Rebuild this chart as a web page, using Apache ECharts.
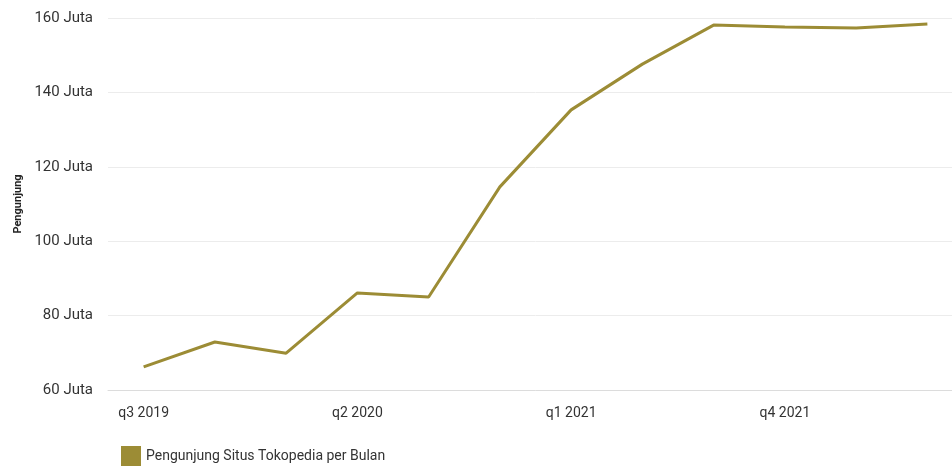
<!DOCTYPE html>
<html><head><meta charset="utf-8">
<script src="https://cdn.jsdelivr.net/npm/echarts@6/dist/echarts.min.js"></script>
<style>html,body{margin:0;padding:0;background:#fff;overflow:hidden;width:952px;height:467px}#c{width:963px;height:467px}</style>
</head><body><div id="c"></div>
<script>
const categories = ['q3 2019','q4 2019','q1 2020','q2 2020','q3 2020','q4 2020','q1 2021','q2 2021','q3 2021','q4 2021','q1 2022','q2 2022'];
const visitors = [66.2, 72.9, 69.9, 86.1, 85.0, 114.6, 135.3, 147.6, 158.1, 157.6, 157.3, 158.4];
const seriesName = 'Pengunjung Situs Tokopedia per Bulan';
const yTicks = [60, 80, 100, 120, 140, 160];

const chart = echarts.init(document.getElementById('c'));
chart.setOption({
  animation: false,
  textStyle: {fontFamily: 'Roboto'},
  grid: {left: 108, right: 0, top: 18, bottom: 77},
  legend: {
    left: 116, bottom: -4, itemWidth: 20, itemHeight: 20,
    icon: 'rect',
    textStyle: {fontSize: 14, color: '#333', fontFamily: 'Roboto'},
    data: [seriesName]
  },
  xAxis: {
    type: 'category', data: categories, boundaryGap: true,
    axisLine: {lineStyle: {color: '#dcdcdc', width: 1}},
    axisTick: {alignWithLabel: true, interval: 2, length: 6, lineStyle: {color: '#dcdcdc'}},
    axisLabel: {interval: 2, color: '#333', fontSize: 14, margin: 16}
  },
  yAxis: {
    type: 'value', min: yTicks[0], max: yTicks[yTicks.length-1], interval: 20,
    name: 'Pengunjung', nameLocation: 'middle', nameGap: 84, nameRotate: 90,
    nameTextStyle: {fontSize: 11, fontWeight: 'bold', color: '#222'},
    axisLine: {show: false}, axisTick: {show: false},
    splitLine: {lineStyle: {color: '#ececec'}},
    axisLabel: {formatter: v => v + ' Juta', color: '#333', fontSize: 15, margin: 15}
  },
  series: [{
    name: seriesName, type: 'line', data: visitors,
    showSymbol: false, symbol: 'none',
    lineStyle: {color: '#9c8c35', width: 3},
    itemStyle: {color: '#9c8c35'}
  }]
});
</script></body></html>
